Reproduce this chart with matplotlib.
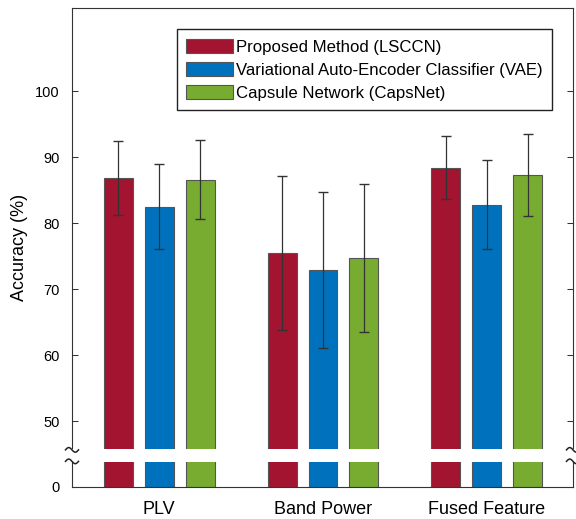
import numpy as np
import matplotlib.pyplot as plt
from matplotlib.patches import Rectangle

plt.rcParams['font.family'] = ['Liberation Sans', 'DejaVu Sans']

categories = ['PLV', 'Band Power', 'Fused Feature']
methods = ['Proposed Method (LSCCN)',
           'Variational Auto-Encoder Classifier (VAE)',
           'Capsule Network (CapsNet)']

lsccn = [86.9, 75.5, 88.4]
lsccn_err = [5.6, 11.7, 4.8]
vae = [82.5, 72.9, 82.8]
vae_err = [6.4, 11.85, 6.8]
capsnet = [86.6, 74.65, 87.3]
capsnet_err = [5.95, 11.2, 6.15]

colors = ['#A2142F', '#0072BD', '#77AC30']


# broken y axis: 0..45 squeezed into a short strip under the 45..max range
def fwd(v):
    v = np.asarray(v, dtype=float)
    return np.where(v >= 45, v, 40 + v * 5 / 45)


def inv(f):
    f = np.asarray(f, dtype=float)
    return np.where(f >= 45, f, (f - 40) * 45 / 5)


fig = plt.figure(figsize=(5.76, 5.19), dpi=100)
ax = fig.add_axes([72 / 576, 32 / 519, 501 / 576, 479 / 519])
ax.set_yscale('function', functions=(fwd, inv))

x = np.arange(1, len(categories) + 1)
width = 0.177
offsets = [-0.25, 0, 0.25]
series = [(lsccn, lsccn_err), (vae, vae_err), (capsnet, capsnet_err)]

for (vals, errs), off, c, name in zip(series, offsets, colors, methods):
    ax.bar(x + off, vals, width, color=c, edgecolor='#555555',
           linewidth=0.8, label=name, zorder=2)
    ax.errorbar(x + off, vals, yerr=errs, fmt='none', ecolor='#333333',
                elinewidth=0.9, capsize=3.6, capthick=1.0, zorder=3)

ax.set_xlim(0.467, 3.527)
ax.set_ylim(0, 112.6)
ax.set_yticks([0, 50, 60, 70, 80, 90, 100])
ax.set_xticks(x)
ax.set_xticklabels(categories)

ax.tick_params(axis='y', direction='in', length=4, width=0.75, right=True,
               labelsize=10.5, pad=9, color='#333333')
ax.tick_params(axis='x', length=0, labelsize=13, pad=10)
for s in ax.spines.values():
    s.set_color('#333333')
    s.set_linewidth(0.8)

ax.set_ylabel('Accuracy (%)', fontsize=13, labelpad=5)

# white strip marking the axis break
ax.add_patch(Rectangle((-0.02, 0.0522), 1.04, 0.0271, transform=ax.transAxes,
                       facecolor='white', edgecolor='none', zorder=5,
                       clip_on=False))
# little wavy marks on both spines at the break
t = np.linspace(0, 2 * np.pi, 40)
for xa in (0, 1):
    for ya in (0.0775, 0.0535):
        ax.plot(xa + 0.013 * (t / np.pi - 1), ya + 0.0048 * np.sin(t),
                transform=ax.transAxes, color='#222222', lw=1.1,
                zorder=6, clip_on=False)

leg = ax.legend(loc='upper left', bbox_to_anchor=(0.209, 0.9555),
                fontsize=12.1, handlelength=2.8, handleheight=0.96,
                handletextpad=0.2, labelspacing=0.42, borderpad=0.55,
                fancybox=False, edgecolor='#222222', framealpha=1,
                borderaxespad=0)
leg.get_frame().set_linewidth(1.0)

fig.savefig('out.png', dpi=100)
